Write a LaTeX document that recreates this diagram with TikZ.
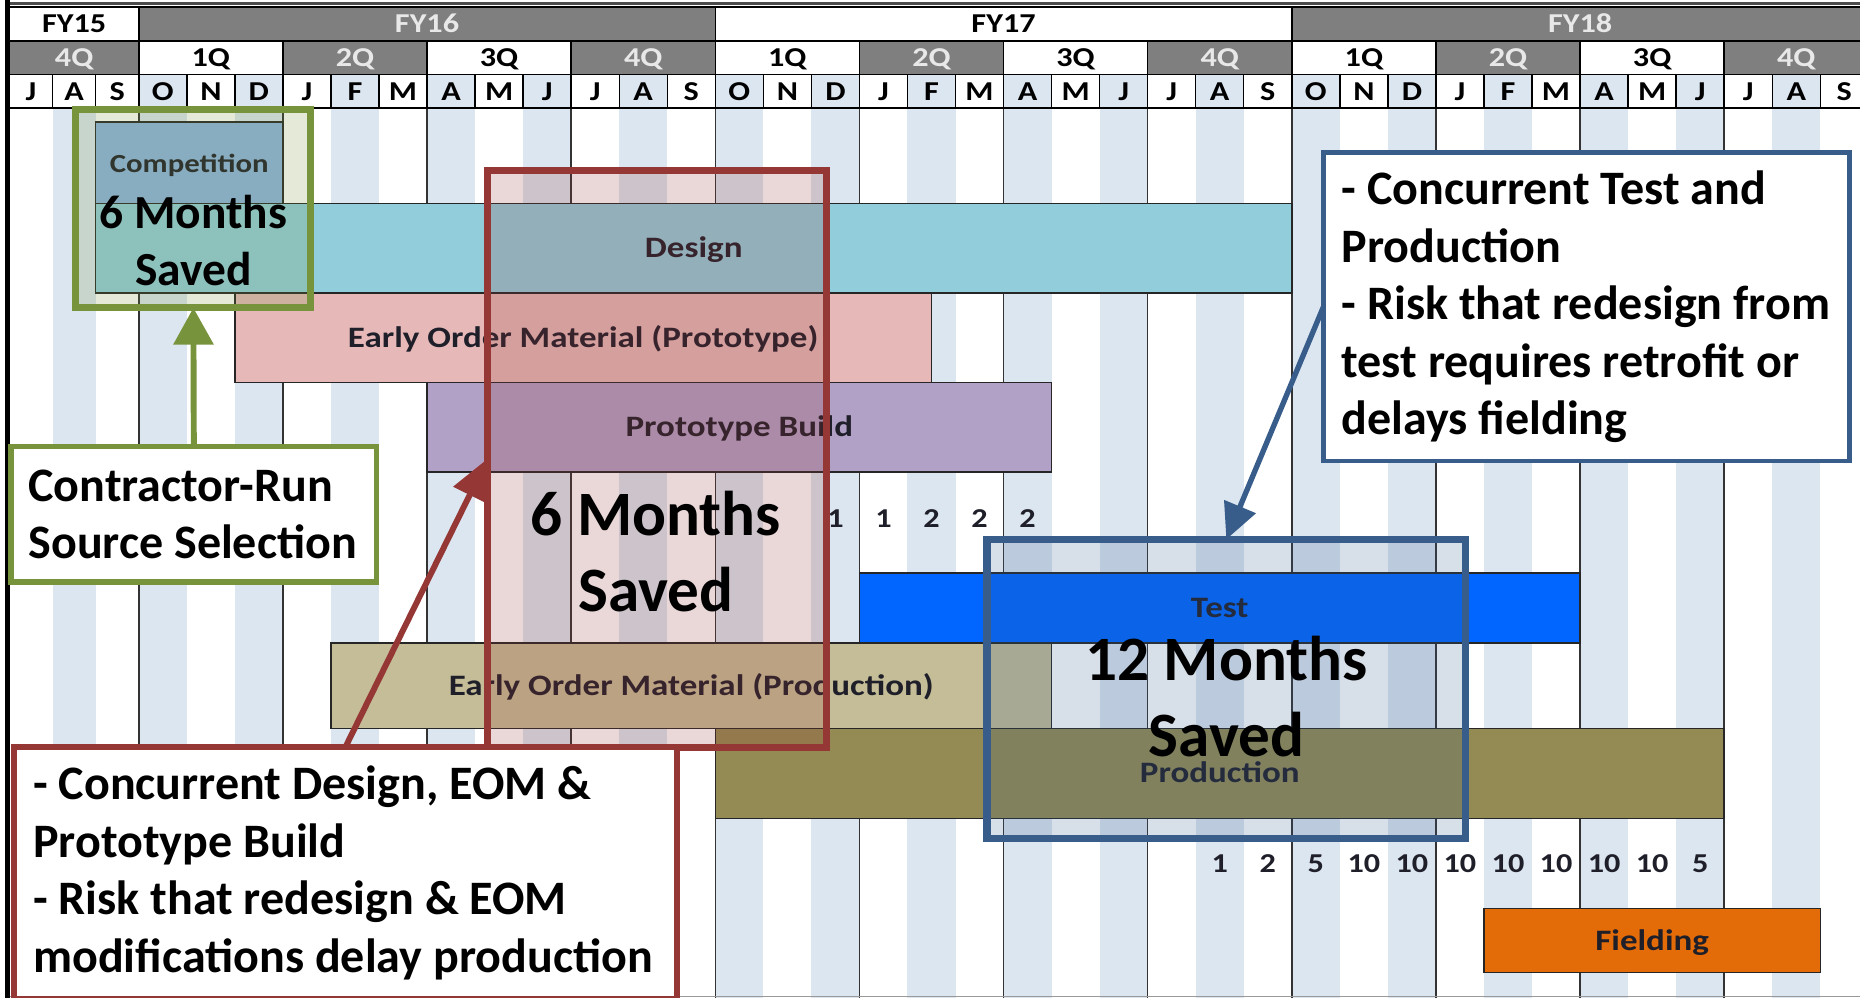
\documentclass[tikz,border=0pt]{standalone}
\usepackage{fontspec}
\setmainfont{Carlito}
\newfontfamily\ganttfont{Carlito}[FakeStretch=1.18]
\usetikzlibrary{arrows.meta}

\definecolor{hdrgray}{HTML}{7F7F7F}
\definecolor{hdrtext}{HTML}{E8E8E8}
\definecolor{stripe}{HTML}{DCE6F1}
\definecolor{labeltext}{HTML}{1F1F2A}
\definecolor{competition}{HTML}{8DB4E2}
\definecolor{design}{HTML}{92CDDC}
\definecolor{eomproto}{HTML}{E6B9B8}
\definecolor{protobuild}{HTML}{B2A1C7}
\definecolor{testblue}{HTML}{0066FF}
\definecolor{eomprod}{HTML}{C4BD97}
\definecolor{production}{HTML}{948A54}
\definecolor{fielding}{HTML}{E36C09}
\definecolor{greenline}{HTML}{77933C}
\definecolor{redline}{HTML}{953735}
\definecolor{blueline}{HTML}{385D8A}

% left edge of month m (m=0 is July of FY15)
\pgfmathdeclarefunction{mx}{1}{\pgfmathparse{(#1<3) ? (8+#1*36.33) : (117+(#1-3)*40.5)}}

\tikzstyle{hdrcell}=[draw=black, line width=1.2pt, inner sep=0pt, outer sep=0pt, anchor=north west, text height=15pt, text depth=0pt, font=\ganttfont\bfseries\fontsize{23}{23}\selectfont]
\tikzstyle{bar}=[draw=black!85, line width=1.2pt, inner sep=0pt, outer sep=0pt, anchor=north west, text=labeltext, text height=16pt, text depth=0pt, font=\ganttfont\bfseries\fontsize{25}{25}\selectfont]
\tikzstyle{count}=[inner sep=0pt, text=labeltext, font=\ganttfont\bfseries\fontsize{23}{23}\selectfont]
\tikzstyle{callout}=[fill=white, line width=4.5pt, inner ysep=0pt, outer sep=0pt, anchor=north west, align=flush left, font=\bfseries\fontsize{40.5}{48.5}\selectfont]
\tikzstyle{savedbox}=[line width=6pt, fill opacity=0.2, inner sep=0pt, outer sep=0pt, anchor=north west]
\tikzstyle{saved}=[align=center, inner sep=0pt, font=\bfseries\fontsize{53.3}{64}\selectfont]
\tikzstyle{pointer}=[line width=5pt]

\newcommand{\ganttbar}[7]{% name, colour, first month, end month, top, bottom, label
  \pgfmathsetmacro{\barx}{mx(#3)}
  \pgfmathsetmacro{\barw}{mx(#4)-mx(#3)}
  \pgfmathsetmacro{\barh}{#6-#5}
  \node[bar, fill=#2, minimum width=\barw pt, minimum height=\barh pt] (#1) at (\barx,#5) {#7};}

\begin{document}
\begin{tikzpicture}[x=1pt, y=-1pt]
    \useasboundingbox (0,0) rectangle (1568,841);

    % body stripes and quarter lines
    \foreach \i in {1,3,...,37}
        \fill[stripe] ({mx(\i)},91) rectangle ({mx(\i+1)},841);
    \foreach \k in {3,6,...,36}
        \draw[black!80, line width=1.2pt] ({mx(\k)},91) -- ({mx(\k)},841);
    \draw[black!40, line width=1.5pt] (6,840) -- (1568,840);

    % header: years, quarters, months
    \foreach \fy/\a/\b/\bg/\fg in {FY15/0/3/white/black, FY16/3/15/hdrgray/hdrtext, FY17/15/27/white/black, FY18/27/39/hdrgray/hdrtext}{
        \pgfmathsetmacro{\cellx}{mx(\a)}
        \pgfmathsetmacro{\cellw}{mx(\b)-mx(\a)}
        \node[hdrcell, fill=\bg, text=\fg, minimum width=\cellw pt, minimum height=28.5pt] (\fy) at (\cellx,6) {\fy};
    }
    \foreach \k in {0,...,12}{
        \pgfmathtruncatemacro{\qn}{mod(\k+3,4)+1}
        \pgfmathsetmacro{\cellx}{mx(3*\k)}
        \pgfmathsetmacro{\cellw}{mx(3*\k+3)-mx(3*\k)}
        \ifodd\k \def\qbg{white}\def\qfg{black}\else\def\qbg{hdrgray}\def\qfg{hdrtext}\fi
        \node[hdrcell, fill=\qbg, text=\qfg, minimum width=\cellw pt, minimum height=28.5pt] (q\k) at (\cellx,34.5) {\qn Q};
    }
    \foreach \l [count=\i from 0] in {J,A,S,O,N,D,J,F,M,A,M,J,J,A,S,O,N,D,J,F,M,A,M,J,J,A,S,O,N,D,J,F,M,A,M,J,J,A,S}{
        \pgfmathsetmacro{\cellx}{mx(\i)}
        \pgfmathsetmacro{\cellw}{mx(\i+1)-mx(\i)}
        \def\mbg{white}
        \ifodd\i \ifnum\i>2 \def\mbg{stripe}\fi\fi
        \node[hdrcell, fill=\mbg, minimum width=\cellw pt, minimum height=28pt] (m\i) at (\cellx,63) {\l};
    }
    \draw[line width=2pt] (6,91) -- (1568,91);
    \draw[black!70, line width=2pt] (6,3) -- (1568,3);
    \draw[line width=3.5pt] (6.3,0) -- (6.3,841);

    % counts
    \foreach \n [count=\i from 17] in {1,1,2,2,2}
        \node[count] (ra\i) at ({(mx(\i)+mx(\i+1))/2},437) {\n};
    \foreach \n [count=\i from 25] in {1,2,5,10,10,10,10,10,10,10,5}
        \node[count] (rb\i) at ({(mx(\i)+mx(\i+1))/2},728) {\n};

    % schedule bars
    \ganttbar{comp}{competition}{2}{6}{103}{171.5}{\fontsize{22}{22}\selectfont Competition}
    \ganttbar{design}{design}{2}{27}{171.5}{247}{Design}
    \ganttbar{eomproto}{eomproto}{5}{19.5}{247}{322.5}{Early Order Material (Prototype)}
    \ganttbar{protobuild}{protobuild}{9}{22}{322.5}{398}{Prototype Build}
    \ganttbar{test}{testblue}{18}{33}{483}{542}{Test}
    \ganttbar{eomprod}{eomprod}{7}{22}{542}{614}{Early Order Material (Production)}
    \ganttbar{production}{production}{15}{36}{614}{690}{Production}
    \ganttbar{fielding}{fielding}{31}{38}{766}{820}{Fielding}

    % savings boxes
    \node[savedbox, draw=greenline, fill=greenline, minimum width=198pt, minimum height=167pt] (greenbox) at (64,92.5) {};
    \node[savedbox, draw=redline, fill=redline, minimum width=286pt, minimum height=486.5pt] (redbox) at (411,143.5) {};
    \node[savedbox, draw=blueline, fill=blueline, minimum width=403.6pt, minimum height=252.3pt] (bluebox) at (832,454.7) {};
    \node[saved, font=\bfseries\fontsize{40}{48}\selectfont] (greensaved) at (163,202.5) {6 Months\\Saved};
    \node[saved] (redsaved) at (553,465) {6 Months\\Saved};
    \node[saved] (bluesaved) at (1034,587) {12 Months\\Saved};

    % notes
    \node[callout, draw=greenline, inner xsep=14.6pt, text width=278.8pt, minimum height=114pt] (contractor) at (9.4,376.5) {Contractor-Run\\Source Selection};
    \node[callout, draw=redline, inner xsep=16.3pt, text width=526.4pt, minimum height=212pt] (eomnote) at (11.7,629.8) {- Concurrent Design, EOM \&\\Prototype Build\\- Risk that redesign \& EOM\\modifications delay production};
    \node[callout, draw=blueline, line width=4pt, inner xsep=15.3pt, text width=412.7pt, minimum height=260pt] (testnote) at (1115.7,128.6) {- Concurrent Test and\\Production\\- Risk that redesign from\\test requires retrofit or\\delays fielding};

    \draw[pointer, greenline, -{Triangle[width=33pt,length=31pt]}] (contractor.north) -- (greenbox.south);
    \draw[pointer, redline, -{Triangle[width=30pt,length=34pt]}] (eomnote.north) -- (redbox.west);
    \draw[pointer, blueline, line width=4.5pt, -{Triangle[width=28pt,length=30pt]}] (testnote.west) -- (bluebox.north);
\end{tikzpicture}
\end{document}
